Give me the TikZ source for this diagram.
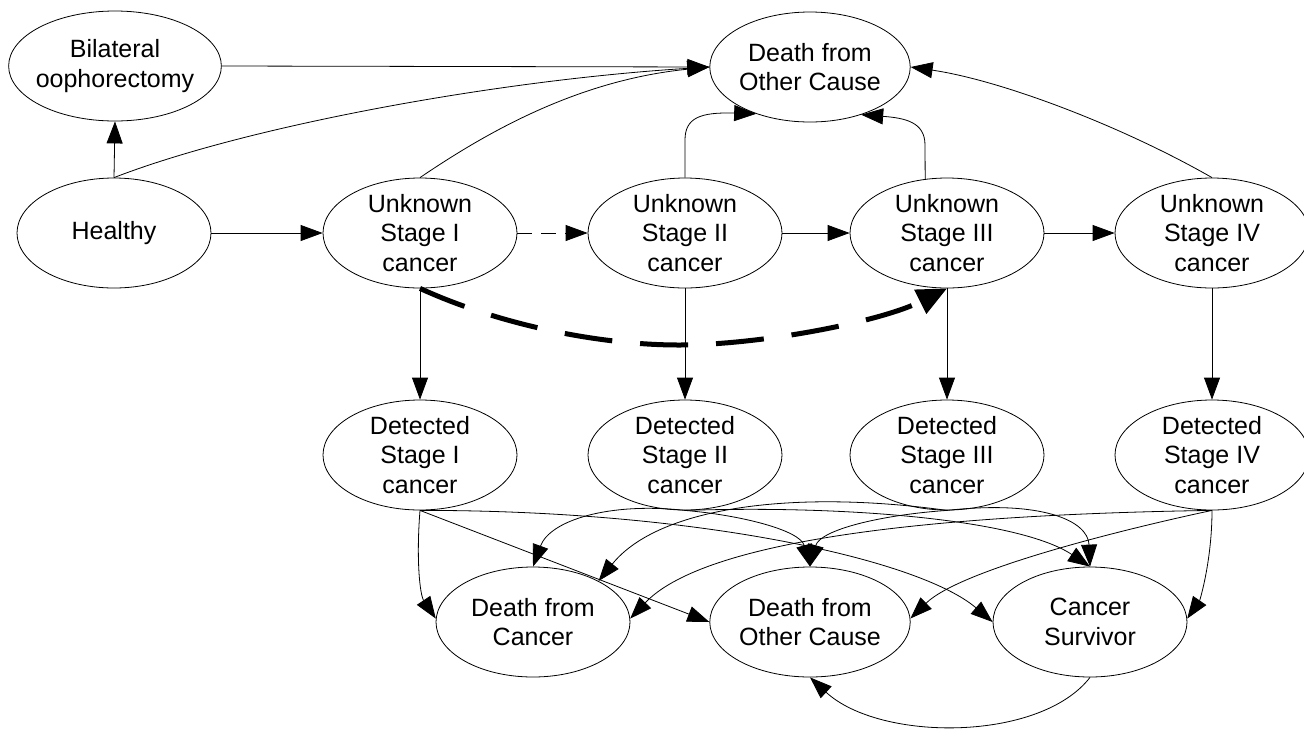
\documentclass[tikz,border=0pt]{standalone}
\usepackage{fontspec}
\setmainfont{Liberation Sans}
\usetikzlibrary{arrows.meta,shapes.geometric}
\begin{document}
\begin{tikzpicture}[x=1pt,y=-1pt,
  st/.style={draw,ellipse,line width=0.8pt,minimum width=194pt,minimum height=110pt,
    inner xsep=0pt,inner ysep=-5pt,align=center,font=\fontsize{25}{29.5}\selectfont},
  ar/.style={line width=0.8pt,-{Triangle[length=22pt,width=16pt]}},
  bigdash/.style={line width=5pt,dash pattern=on 48pt off 28pt,-{Triangle[length=30pt,width=26pt]}},
  smalldash/.style={line width=0.8pt,dash pattern=on 15pt off 9pt,-{Triangle[length=22pt,width=16pt]}},
]
\fill[white] (0,0) rectangle (1304,732);
\useasboundingbox (0,0) rectangle (1304,732);

% nodes
\node[st,inner xsep=-4pt] (bo) at (115,66) {Bilateral\\oophorectomy};
\node[st] (t1) at (810,67) {Death from\\Other Cause};
\node[st] (hl) at (114,233) {Healthy};
\node[st] (u1) at (420,233) {Unknown\\Stage I\\cancer};
\node[st] (u2) at (685,233) {Unknown\\Stage II\\cancer};
\node[st] (u3) at (947,233) {Unknown\\Stage III\\cancer};
\node[st] (u4) at (1212,233) {Unknown\\Stage IV\\cancer};
\node[st] (d1) at (420,455) {Detected\\Stage I\\cancer};
\node[st] (d2) at (685,455) {Detected\\Stage II\\cancer};
\node[st] (d3) at (947,455) {Detected\\Stage III\\cancer};
\node[st] (d4) at (1212,455) {Detected\\Stage IV\\cancer};
\node[st] (dc) at (533,622) {Death from\\Cancer};
\node[st] (b2) at (810,622) {Death from\\Other Cause};
\node[st] (cs) at (1090,622) {Cancer\\Survivor};

% top part
\draw[ar] (hl.north) -- (bo.south);
\draw[ar] (bo.east) -- (t1.west);
\draw[ar] (hl.north) .. controls (250,125) and (500,80) .. (t1.west);
\draw[ar] (u1.north) .. controls (490,130) and (580,80) .. (t1.west);
\draw[ar] (u2.north) -- (685,140) .. controls (685,118) and (700,112) .. (t1.221);
\draw[ar] (u3.112) -- (925,145) .. controls (925,122) and (905,118) .. (t1.317);
\draw[ar] (u4.north) .. controls (1120,125) and (1000,80) .. (t1.east);

% unknown chain
\draw[ar] (hl.east) -- (u1.west);
\draw[smalldash] (u1.east) -- (u2.west);
\draw[ar] (u2.east) -- (u3.west);
\draw[ar] (u3.east) -- (u4.west);
\draw[bigdash] (u1.south) .. controls (500,325) and (600,345) .. (679,345)
  .. controls (760,345) and (880,322) .. (u3.south);

% unknown -> detected
\draw[ar] (u1.south) -- (d1.north);
\draw[ar] (u2.south) -- (d2.north);
\draw[ar] (u3.south) -- (d3.north);
\draw[ar] (u4.south) -- (d4.north);

% detected I
\draw[ar] (d1.south) .. controls (416,560) and (420,595) .. (dc.178);
\draw[ar] (d1.south) -- (b2.west);
\draw[ar] (d1.south) .. controls (700,510) and (920,560) .. (cs.west);
% detected II
\draw[ar] (d2.south) .. controls (610,502) and (550,520) .. (dc.north);
\draw[ar] (d2.south) .. controls (740,515) and (800,530) .. (b2.north);
\draw[ar] (d2.south) .. controls (850,505) and (1020,520) .. (cs.north);
% detected III
\draw[ar] (d3.south) .. controls (800,490) and (660,505) .. (dc.32);
\draw[ar] (d3.south) .. controls (880,515) and (820,530) .. (b2.north);
\draw[ar] (d3.south) .. controls (1040,500) and (1088,520) .. (cs.north);
% detected IV
\draw[ar] (d4.south) .. controls (900,515) and (700,545) .. (dc.2);
\draw[ar] (d4.south) .. controls (1120,530) and (960,570) .. (b2.2);
\draw[ar] (d4.south) .. controls (1212,560) and (1200,600) .. (cs.2);

% survivor -> other cause
\draw[ar] (cs.south) .. controls (1040,742) and (880,742) .. (b2.south);
\end{tikzpicture}
\end{document}
